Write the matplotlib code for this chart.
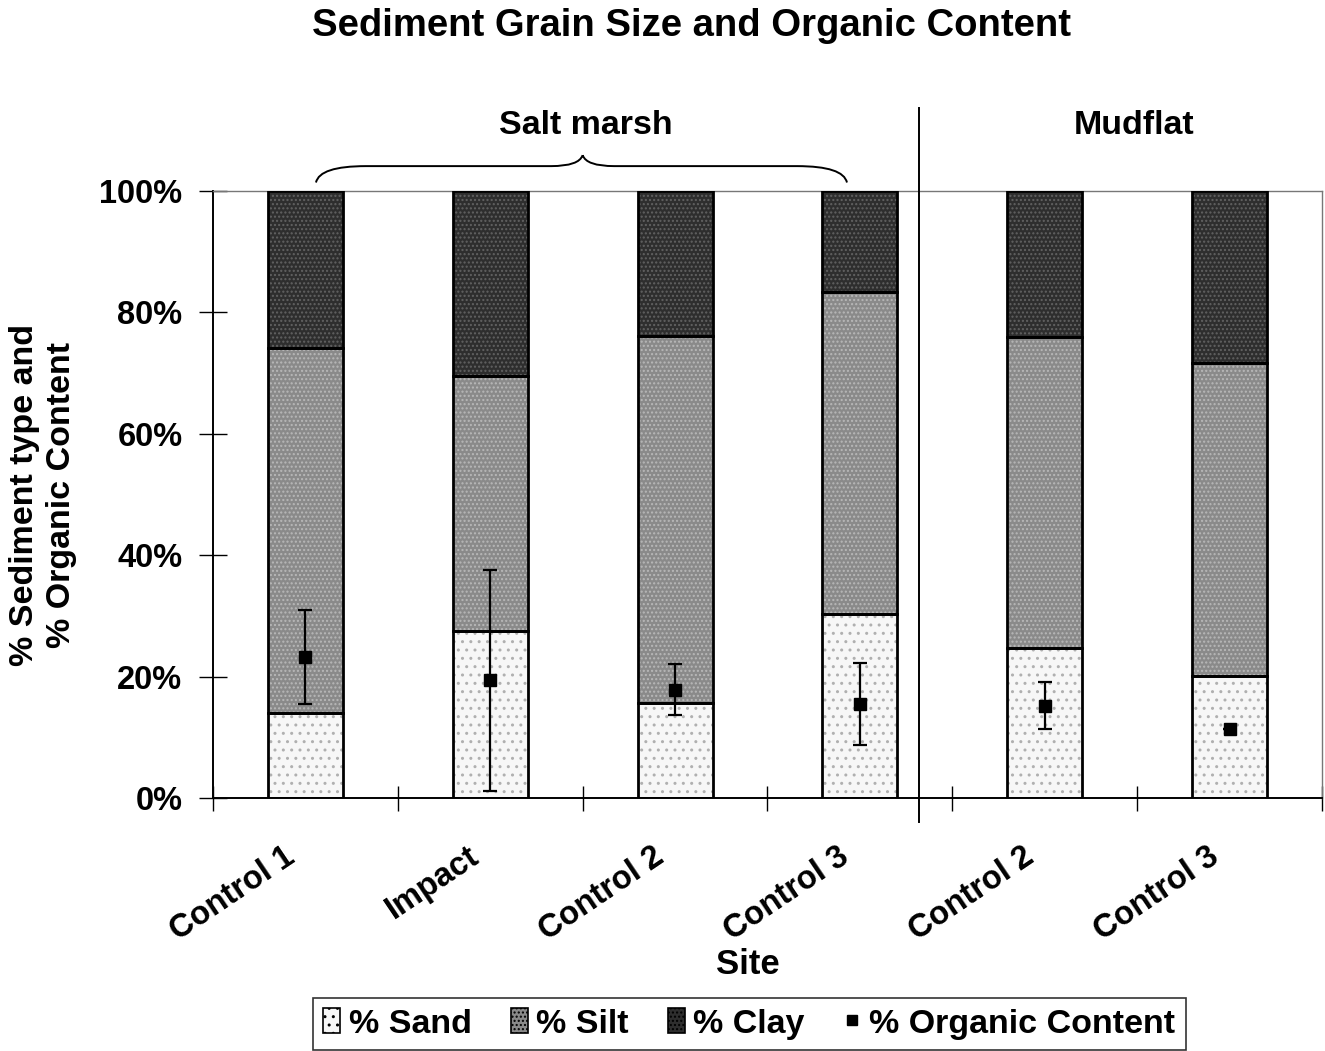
import matplotlib
matplotlib.use("Agg")
import matplotlib.pyplot as plt
import matplotlib.transforms as mtransforms
from matplotlib.patches import Patch, PathPatch
from matplotlib.lines import Line2D
from matplotlib.path import Path
import numpy as np

plt.rcParams['font.family'] = ['Liberation Sans', 'DejaVu Sans']
plt.rcParams['font.weight'] = 'bold'
plt.rcParams['hatch.linewidth'] = 1.0

# Site categories and sediment composition (%)
sites = ["Control 1", "Impact", "Control 2", "Control 3", "Control 2", "Control 3"]
sand = [14.0, 27.5, 15.7, 30.3, 24.7, 20.1]
silt = [60.1, 42.0, 60.4, 53.1, 51.2, 51.6]
clay = [25.9, 30.5, 23.9, 16.6, 24.1, 28.3]

# Organic content (%) with error
organic = [23.2, 19.4, 17.8, 15.5, 15.2, 11.4]
organic_err = [7.7, 18.2, 4.2, 6.8, 3.9, 0.0]

habitats = ["Salt marsh", "Mudflat"]
y_ticks = [0, 20, 40, 60, 80, 100]

W, H = 1325, 1051
fig = plt.figure(figsize=(W / 100, H / 100), dpi=100)
ax = fig.add_axes([213 / W, 1 - 798 / H, (1322 - 213) / W, (798 - 191) / H])

x = np.arange(len(sites))
bw = 0.405

styles = [
    dict(face="#f7f7f7", hatch="..", hcol="#b0b0b0"),    # sand
    dict(face="#8a8a8a", hatch="....", hcol="#b8b8b8"),  # silt
    dict(face="#2e2e2e", hatch="....", hcol="#626262"),  # clay
]
layers = [sand, silt, clay]
bottom = np.zeros(len(sites))
for vals, st in zip(layers, styles):
    ax.bar(x, vals, bw, bottom=bottom, color=st["face"], edgecolor=st["hcol"],
           hatch=st["hatch"], linewidth=0, zorder=2)
    ax.bar(x, vals, bw, bottom=bottom, facecolor="none", edgecolor="black",
           linewidth=2.0, zorder=3)
    bottom = bottom + np.array(vals)

ax.errorbar(x, organic, yerr=organic_err, fmt="s", color="black", ms=8,
            elinewidth=1.6, capsize=5, capthick=1.6, zorder=5)

ax.set_xlim(-0.5, len(sites) - 0.5)
ax.set_ylim(0, 100)
ax.set_yticks(y_ticks)
ax.set_yticklabels([f"{v}%" for v in y_ticks], fontsize=23.5, fontweight="bold")
ax.tick_params(axis="y", direction="inout", length=20, width=1, pad=12)

ax.set_xticks(x)
ax.set_xticklabels(sites, fontsize=23.5, fontweight="bold", rotation=34,
                   ha="right", va="center", rotation_mode="anchor")
ax.tick_params(axis="x", which="major", length=0, pad=40)
ax.set_xticks(np.arange(len(sites) + 1) - 0.5, minor=True)
ax.tick_params(axis="x", which="minor", direction="inout", length=18, width=1)
offset = mtransforms.ScaledTranslation(-14 / 100, 0, fig.dpi_scale_trans)
for lab in ax.get_xticklabels():
    lab.set_transform(lab.get_transform() + offset)

for side in ["top", "right"]:
    ax.spines[side].set_color("#777777")
    ax.spines[side].set_linestyle((0, (1, 1)))
    ax.spines[side].set_linewidth(1.0)
for side in ["left", "bottom"]:
    ax.spines[side].set_linewidth(1.4)

# Habitat divider
ax.plot([3.32, 3.32], [-3.9, 113.7], color="black", lw=1.4, clip_on=False, zorder=6)

# Brace over salt-marsh sites
x0, x1, xm = 0.057, 2.93, 1.5
yb, yh, yp = 101.4, 104.1, 105.9
verts = [
    (x0, yb), (x0 + 0.02, yh), (x0 + 0.27, yh),
    (xm - 0.17, yh),
    (xm - 0.02, yh), (xm, yp),
    (xm, yp), (xm + 0.02, yh), (xm + 0.17, yh),
    (x1 - 0.27, yh),
    (x1 - 0.02, yh), (x1, yb),
]
codes = [Path.MOVETO, Path.CURVE3, Path.CURVE3, Path.LINETO,
         Path.CURVE3, Path.CURVE3, Path.MOVETO, Path.CURVE3, Path.CURVE3,
         Path.LINETO, Path.CURVE3, Path.CURVE3]
ax.add_patch(PathPatch(Path(verts, codes), facecolor="none", edgecolor="black",
                       lw=1.4, clip_on=False))

fig.text(586 / W, 1 - 125 / H, habitats[0], ha="center", va="center",
         fontsize=24.5, fontweight="bold")
fig.text(1134 / W, 1 - 125 / H, habitats[1], ha="center", va="center",
         fontsize=24.5, fontweight="bold")

fig.text(691 / W, 1 - 26 / H, "Sediment Grain Size and Organic Content",
         ha="center", va="center", fontsize=27.5, fontweight="bold")
fig.text(43 / W, 1 - 495 / H, "% Sediment type and\n% Organic Content",
         ha="center", va="center", rotation=90, fontsize=24.5,
         fontweight="bold", linespacing=1.25)
fig.text(748 / W, 1 - 965 / H, "Site", ha="center", va="center",
         fontsize=25, fontweight="bold")

handles = [
    Patch(facecolor=styles[0]["face"], edgecolor="black", hatch=styles[0]["hatch"], lw=1.2),
    Patch(facecolor=styles[1]["face"], edgecolor="black", hatch=styles[1]["hatch"], lw=1.2),
    Patch(facecolor=styles[2]["face"], edgecolor="black", hatch=styles[2]["hatch"], lw=1.2),
    Line2D([], [], marker="s", color="black", ls="none", ms=7),
]
labels = ["% Sand", "% Silt", "% Clay", "% Organic Content"]
leg = fig.legend(handles, labels, loc="upper left", bbox_to_anchor=(313 / W, 1 - 998 / H),
                 ncol=4, fontsize=24.5, frameon=True, fancybox=False, edgecolor="black",
                 handlelength=0.5, handleheight=0.75, handletextpad=0.25,
                 columnspacing=1.15, borderpad=0.3, borderaxespad=0)
leg.get_frame().set_linewidth(1.2)
for t in leg.get_texts():
    t.set_fontweight("bold")

fig.savefig("out.png", dpi=100)
